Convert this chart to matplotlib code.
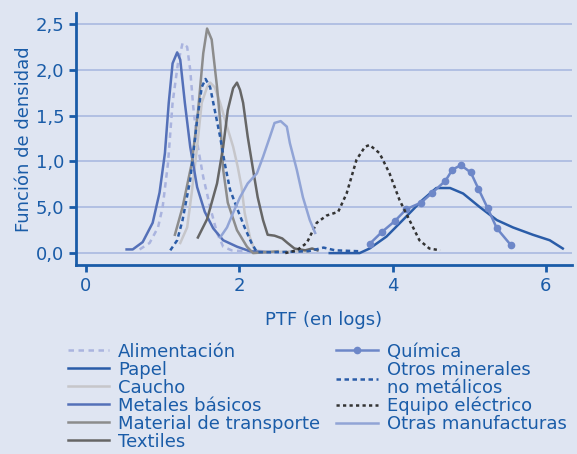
import matplotlib
matplotlib.use('agg')
import matplotlib.pyplot as plt

# densidades (x = PTF en logs, y = densidad)
alim_x = [0.70, 0.83, 0.94, 1.00, 1.07, 1.13, 1.20, 1.26, 1.32, 1.36, 1.40, 1.46, 1.53, 1.62, 1.71, 1.79, 1.90, 2.05, 2.20]
alim_y = [0.04, 0.11, 0.28, 0.50, 0.98, 1.64, 2.07, 2.29, 2.25, 2.00, 1.59, 1.16, 0.83, 0.50, 0.22, 0.07, 0.03, 0.02, 0.02]

papel_x = [3.18, 3.57, 3.70, 3.92, 4.18, 4.39, 4.57, 4.75, 4.92, 5.14, 5.36, 5.57, 5.83, 6.05, 6.22]
papel_y = [0.00, 0.00, 0.05, 0.18, 0.40, 0.58, 0.71, 0.71, 0.65, 0.50, 0.36, 0.28, 0.20, 0.14, 0.05]

caucho_x = [1.23, 1.32, 1.38, 1.45, 1.51, 1.58, 1.62, 1.68, 1.75, 1.84, 1.92, 1.98, 2.03, 2.07, 2.14, 2.20, 2.40, 2.70, 2.90]
caucho_y = [0.11, 0.28, 0.66, 1.16, 1.64, 1.81, 1.86, 1.81, 1.64, 1.38, 1.16, 0.94, 0.72, 0.44, 0.17, 0.03, 0.01, 0.02, 0.01]

metal_x = [0.53, 0.61, 0.74, 0.87, 0.96, 1.03, 1.08, 1.13, 1.19, 1.23, 1.29, 1.36, 1.45, 1.55, 1.66, 1.79, 1.97, 2.14, 2.40]
metal_y = [0.04, 0.04, 0.12, 0.33, 0.66, 1.09, 1.64, 2.07, 2.19, 2.11, 1.64, 1.16, 0.72, 0.45, 0.27, 0.14, 0.07, 0.02, 0.01]

transp_x = [1.16, 1.26, 1.38, 1.46, 1.53, 1.58, 1.64, 1.71, 1.75, 1.79, 1.85, 1.97, 2.10, 2.18, 2.35, 2.50]
transp_y = [0.20, 0.50, 0.98, 1.53, 2.18, 2.45, 2.33, 1.81, 1.45, 0.91, 0.55, 0.25, 0.07, 0.00, 0.01, 0.02]

textil_x = [1.46, 1.58, 1.71, 1.79, 1.85, 1.92, 1.97, 2.01, 2.05, 2.11, 2.18, 2.24, 2.31, 2.37, 2.46, 2.56, 2.63, 2.72, 2.86, 2.95, 3.02]
textil_y = [0.17, 0.37, 0.76, 1.16, 1.56, 1.80, 1.86, 1.78, 1.64, 1.27, 0.91, 0.61, 0.36, 0.20, 0.19, 0.16, 0.11, 0.05, 0.03, 0.05, 0.03]

quim_x = [3.70, 3.86, 4.03, 4.18, 4.37, 4.52, 4.69, 4.78, 4.89, 5.02, 5.12, 5.24, 5.36, 5.54]
quim_y = [0.10, 0.23, 0.35, 0.48, 0.55, 0.66, 0.79, 0.91, 0.96, 0.88, 0.70, 0.49, 0.27, 0.09]

miner_x = [1.10, 1.19, 1.26, 1.36, 1.45, 1.51, 1.56, 1.62, 1.68, 1.75, 1.81, 1.88, 1.98, 2.07, 2.16, 2.23, 2.50, 2.90, 3.10, 3.25, 3.57]
miner_y = [0.03, 0.14, 0.36, 0.80, 1.45, 1.81, 1.90, 1.81, 1.56, 1.27, 0.98, 0.69, 0.47, 0.28, 0.11, 0.01, 0.01, 0.02, 0.06, 0.03, 0.02]

equipo_x = [2.60, 2.75, 2.88, 3.01, 3.14, 3.29, 3.40, 3.53, 3.64, 3.70, 3.83, 3.96, 4.09, 4.22, 4.35, 4.48, 4.62]
equipo_y = [0.00, 0.03, 0.11, 0.33, 0.41, 0.45, 0.65, 1.02, 1.16, 1.18, 1.09, 0.87, 0.58, 0.36, 0.14, 0.05, 0.03]

otras_x = [1.75, 1.84, 1.92, 2.01, 2.11, 2.23, 2.31, 2.40, 2.46, 2.54, 2.62, 2.66, 2.75, 2.83, 2.92, 2.99]
otras_y = [0.17, 0.28, 0.44, 0.61, 0.76, 0.87, 1.05, 1.27, 1.42, 1.44, 1.38, 1.20, 0.91, 0.61, 0.36, 0.22]

yticks = [0.0, 0.5, 1.0, 1.5, 2.0, 2.5]
ytick_labels = ['0,0', '5,0', '1,0', '1,5', '2,0', '2,5']
xticks = [0, 2, 4, 6]

bg = '#dfe5f2'
blue_txt = '#1a5ca8'

plt.rcParams['font.family'] = ['DejaVu Sans']
fig = plt.figure(figsize=(5.77, 4.54), dpi=100, facecolor=bg)
ax = fig.add_axes([0.1317, 0.4163, 0.8596, 0.5551], facecolor=bg)

lw = 1.8
kw = dict(lw=lw, solid_joinstyle='round', dash_joinstyle='round')
l_alim, = ax.plot(alim_x, alim_y, color='#aab4df', ls=(0, (2.2, 1.8)), label='Alimentación', **kw)
l_papel, = ax.plot(papel_x, papel_y, color='#2a5ca8', label='Papel', **kw)
l_caucho, = ax.plot(caucho_x, caucho_y, color='#c6c6ca', label='Caucho', **kw)
l_metal, = ax.plot(metal_x, metal_y, color='#5470b8', label='Metales básicos', **kw)
l_transp, = ax.plot(transp_x, transp_y, color='#8c8c8c', label='Material de transporte', **kw)
l_textil, = ax.plot(textil_x, textil_y, color='#666666', label='Textiles', **kw)
l_quim, = ax.plot(quim_x, quim_y, color='#6d87c8', marker='o', ms=4.5, label='Química', **kw)
l_miner, = ax.plot(miner_x, miner_y, color='#2a5ca8', ls=(0, (1.8, 1.4)), label='Otros minerales\nno metálicos', **kw)
l_equipo, = ax.plot(equipo_x, equipo_y, color='#333333', ls=(0, (1.3, 1.3)), label='Equipo eléctrico', **kw)
l_otras, = ax.plot(otras_x, otras_y, color='#91a4d6', label='Otras manufacturas', **kw)

ax.set_xlim(-0.13, 6.34)
ax.set_ylim(-0.13, 2.62)
ax.set_yticks(yticks)
ax.set_yticklabels(ytick_labels)
ax.set_xticks(xticks)
ax.grid(axis='y', color='#a9b9e0', lw=1.2)
ax.set_axisbelow(True)
for s in ['top', 'right']:
    ax.spines[s].set_visible(False)
for s in ['left', 'bottom']:
    ax.spines[s].set_color(blue_txt)
    ax.spines[s].set_linewidth(2)
ax.tick_params(colors=blue_txt, labelsize=13, width=2, length=5)
ax.set_ylabel('Función de densidad', color=blue_txt, fontsize=13, labelpad=2)
ax.set_xlabel('PTF (en logs)', color=blue_txt, fontsize=13, labelpad=12)

leg_kw = dict(frameon=False, fontsize=13, labelcolor=blue_txt, handlelength=2.3,
              handletextpad=0.5, labelspacing=0.0, borderpad=0, borderaxespad=0)
leg1 = fig.legend(handles=[l_alim, l_papel, l_caucho, l_metal, l_transp, l_textil],
                  loc='upper left', bbox_to_anchor=(0.117, 0.245), **leg_kw)
leg2 = fig.legend(handles=[l_quim, l_miner, l_equipo, l_otras],
                  loc='upper left', bbox_to_anchor=(0.583, 0.245), **leg_kw)
for t in leg2.get_texts():
    t.set_linespacing(1.0)

fig.savefig('out.png', dpi=100, facecolor=bg)
